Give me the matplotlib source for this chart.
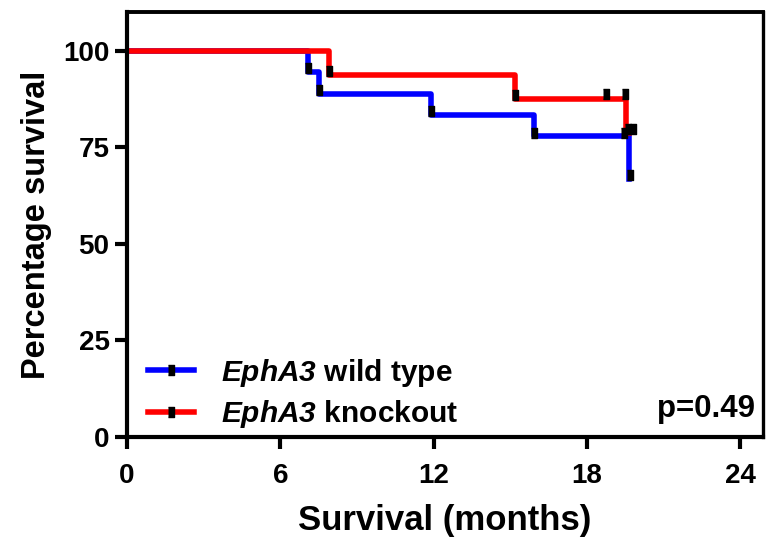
import matplotlib
matplotlib.use("Agg")
import matplotlib.pyplot as plt
from matplotlib.lines import Line2D

# Kaplan-Meier steps
wt_time = [0, 7.1, 7.5, 11.9, 15.95]
wt_surv = [100, 94.4, 88.9, 83.3, 77.8]
wt_last_time = 19.65
wt_last_surv = 66.7

ko_time = [0, 7.9, 15.2]
ko_surv = [100, 93.75, 87.5]
ko_last_time = 19.55
ko_last_surv = 78.75
curve_end = 19.65

# censor ticks
wt_cens_t = [7.1, 7.5, 11.9, 15.95, 19.45, 19.68]
wt_cens_y = [95.5, 89.9, 84.3, 78.7, 78.8, 67.7]
ko_cens_t = [7.9, 15.2, 18.74, 19.5, 19.6, 19.8]
ko_cens_y = [94.7, 88.5, 88.9, 88.9, 79.8, 79.8]

x_ticks = [0, 6, 12, 18, 24]
y_ticks = [0, 25, 50, 75, 100]
labels = [r"$EphA3$ wild type", r"$EphA3$ knockout"]
p_text = "p=0.49"

plt.rcParams["font.family"] = "Liberation Sans"
plt.rcParams["font.weight"] = "bold"
plt.rcParams["mathtext.fontset"] = "custom"
plt.rcParams["mathtext.it"] = "Liberation Sans:italic:bold"
plt.rcParams["mathtext.rm"] = "Liberation Sans:italic:bold"

LW = 4.0
SPINE = 3.0
tick_mark = [(-0.35, -0.5), (0.35, -0.5), (0.35, 0.5), (-0.35, 0.5)]

fig = plt.figure(figsize=(7.66, 5.38), dpi=100)
ax = fig.add_axes([0.1658, 0.1877, 0.8303, 0.79])


def km_line(times, surv, last_t, last_s, end_t, color):
    xs = times + [last_t, end_t]
    ys = surv + [last_s, last_s]
    ax.step(xs, ys, where="post", color=color, lw=LW, zorder=2,
            solid_joinstyle="round")


km_line(wt_time, wt_surv, wt_last_time, wt_last_surv, curve_end, "#0000ff")
km_line(ko_time, ko_surv, ko_last_time, ko_last_surv, curve_end, "#ff0000")

ax.plot(wt_cens_t, wt_cens_y, ls="none", marker=tick_mark, ms=7,
        color="black", zorder=3)
ax.plot(ko_cens_t, ko_cens_y, ls="none", marker=tick_mark, ms=7,
        color="black", zorder=3)

ax.set_xlim(0, 24.9)
ax.set_ylim(0, 110)
ax.set_xticks(x_ticks)
ax.set_yticks(y_ticks)
ax.tick_params(width=SPINE, length=8.6, labelsize=20)
ax.tick_params(axis="x", pad=10)
ax.tick_params(axis="y", pad=4)
for lab in ax.get_xticklabels() + ax.get_yticklabels():
    lab.set_fontweight("bold")
for s in ax.spines.values():
    s.set_linewidth(SPINE)
ax.spines["top"].set_linewidth(2.8)
ax.spines["right"].set_linewidth(2.4)

ax.set_xlabel("Survival (months)", fontsize=25, fontweight="bold", labelpad=11)
ax.set_ylabel("Percentage survival", fontsize=23.5, fontweight="bold", labelpad=8)

handles = [
    Line2D([], [], color="#0000ff", lw=LW, marker=tick_mark, ms=7,
           mfc="black", mec="black"),
    Line2D([], [], color="#ff0000", lw=LW, marker=tick_mark, ms=7,
           mfc="black", mec="black"),
]
ax.legend(handles, labels, loc="lower left", bbox_to_anchor=(0.033, 0.016),
          frameon=False, handlelength=1.55, handletextpad=0.9,
          labelspacing=0.32, borderpad=0, borderaxespad=0, numpoints=1,
          prop={"weight": "bold", "size": 21.5})

ax.text(0.988, 0.03, p_text, transform=ax.transAxes, ha="right", va="bottom",
        fontsize=22.5, fontweight="bold")

fig.savefig("out.png", dpi=100)
